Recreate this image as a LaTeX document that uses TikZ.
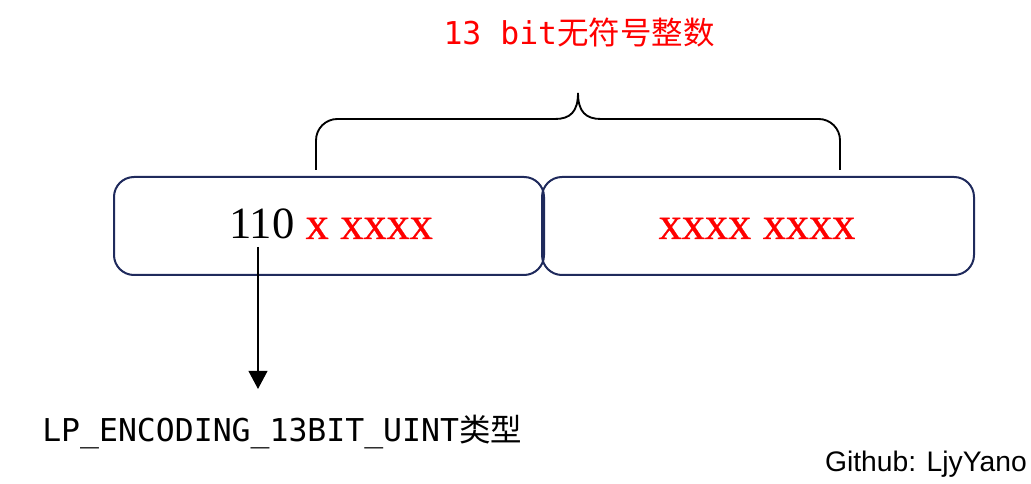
\documentclass[tikz,border=0pt]{standalone}
\usepackage{fontspec}
\setmainfont{Liberation Serif}
\newfontfamily\cjkmono{Noto Sans CJK SC}
\newfontfamily\monof{DejaVu Sans Mono}
\newfontfamily\sansf{Liberation Sans}
\newfontfamily\redserif[FakeBold=0.6]{Liberation Serif}
\usetikzlibrary{arrows.meta}
\definecolor{boxnavy}{HTML}{1F2A5C}
\tikzset{
  bitbox/.style={draw=boxnavy, line width=1.5pt, rounded corners=15pt, minimum height=73.5pt, inner sep=0pt},
  bitsfont/.style={font=\fontsize{33.5}{36}\selectfont},
  redbits/.style={font=\redserif\fontsize{34.7}{36}\selectfont, text=red},
  monolabel/.style={font=\fontsize{23.6}{26}\selectfont, inner sep=0pt},
  braceline/.style={line width=1.4pt, black},
}
\begin{document}
\begin{tikzpicture}[x=0.75pt,y=-0.75pt]
\useasboundingbox (0,0) rectangle (1031,484);
\node[bitbox, minimum width=322.5pt] (b1) at (329,226) {};
\node[bitbox, minimum width=324pt] (b2) at (758,226) {};
\node[bitsfont, anchor=base, inner sep=0pt] (t1) at (331,239) {110 {\redserif\fontsize{34.7}{36}\selectfont\color{red}x xxxx}};
\node[redbits, anchor=base, inner sep=0pt] (t2) at (757,239) {xxxx xxxx};
% brace
\coordinate (bl) at (316,170);
\coordinate (br) at (840,170);
\coordinate (bp) at (578,93);
\draw[braceline, rounded corners=16pt] (bl) -- (316,119) -- (555,119);
\draw[braceline] (555,119) .. controls (570,119) and (578,112) .. (bp);
\draw[braceline] (bp) .. controls (578,112) and (586,119) .. (601,119);
\draw[braceline, rounded corners=16pt] (601,119) -- (840,119) -- (br);
\node[monolabel, text=red] (title) at (579,33) {\monof 13 bit\cjkmono 无符号整数};
% arrow
\coordinate (as) at (258,247);
\coordinate (ae) at (258,389);
\draw[line width=1.4pt, -{Triangle[length=13.5pt, width=14pt]}] (as) -- (ae);
\node[monolabel, anchor=west] (lbl) at (42,432) {\monof LP\_ENCODING\_13BIT\_UINT\cjkmono 类型};
\node[font=\sansf\fontsize{21.2}{24}\selectfont, anchor=east, inner sep=0pt] (gh) at (1027,464) {Github: LjyYano};
\end{tikzpicture}
\end{document}
